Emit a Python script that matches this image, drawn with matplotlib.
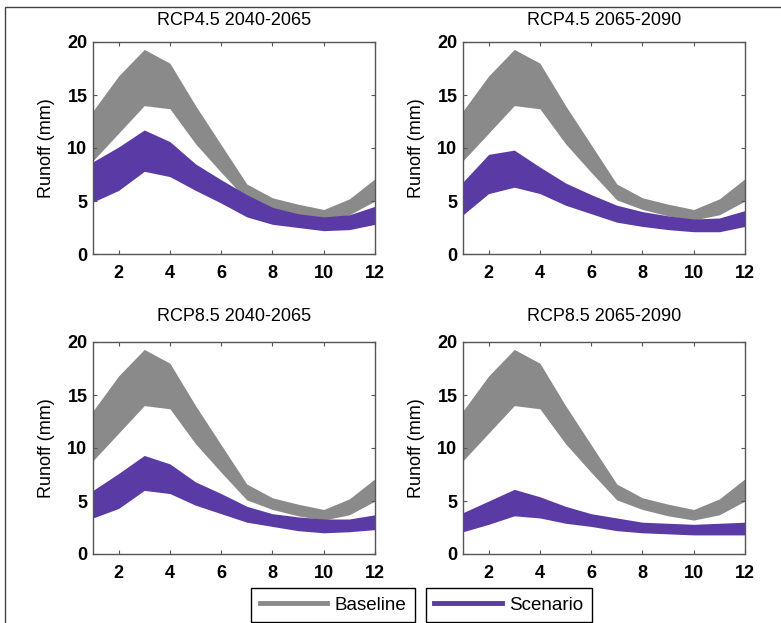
"""Monthly runoff envelopes: baseline vs. RCP scenarios."""

import numpy as np
import matplotlib.pyplot as plt
from matplotlib.lines import Line2D
from matplotlib.patches import Rectangle

plt.rcParams["font.family"] = ["Liberation Sans", "DejaVu Sans"]

months = np.arange(1, 13)

# baseline envelope (same in every panel)
base_hi = [13.5, 16.8, 19.3, 18.0, 14.0, 10.3, 6.6, 5.3, 4.7, 4.2, 5.2, 7.1]
base_lo = [8.8, 11.4, 14.0, 13.7, 10.4, 7.7, 5.1, 4.2, 3.6, 3.2, 3.7, 5.0]

# scenario envelopes
titles = ["RCP4.5 2040-2065", "RCP4.5 2065-2090", "RCP8.5 2040-2065", "RCP8.5 2065-2090"]
scen_hi = [
    [8.7, 10.1, 11.7, 10.6, 8.5, 7.0, 5.6, 4.4, 3.8, 3.5, 3.7, 4.5],
    [6.8, 9.4, 9.8, 8.2, 6.7, 5.6, 4.6, 4.0, 3.6, 3.3, 3.4, 4.1],
    [6.0, 7.6, 9.3, 8.5, 6.8, 5.7, 4.5, 3.8, 3.5, 3.3, 3.3, 3.7],
    [3.9, 5.0, 6.1, 5.4, 4.5, 3.8, 3.4, 3.0, 2.9, 2.8, 2.9, 3.0],
]
scen_lo = [
    [4.9, 6.0, 7.8, 7.3, 6.0, 4.8, 3.5, 2.8, 2.5, 2.2, 2.3, 2.8],
    [3.7, 5.7, 6.3, 5.7, 4.6, 3.8, 3.0, 2.6, 2.3, 2.1, 2.1, 2.6],
    [3.4, 4.3, 6.0, 5.7, 4.6, 3.8, 3.0, 2.6, 2.2, 2.0, 2.1, 2.3],
    [2.1, 2.8, 3.6, 3.4, 2.9, 2.6, 2.2, 2.0, 1.9, 1.8, 1.8, 1.8],
]

gray = "#8a8a8a"
purple = "#5a3aa5"

fig = plt.figure(figsize=(7.81, 6.23), dpi=100)

# axes boxes in pixels: left, top, right, bottom
boxes = [(93, 42, 375, 254), (463, 42, 745, 254), (93, 342, 375, 554), (463, 342, 745, 554)]
W, H = 781, 623

for i, (l, t, r, b) in enumerate(boxes):
    ax = fig.add_axes([l / W, 1 - b / H, (r - l) / W, (b - t) / H])
    ax.fill_between(months, base_lo, base_hi, color=gray, lw=0)
    ax.fill_between(months, scen_lo[i], scen_hi[i], color=purple, lw=0)
    ax.set_xlim(1, 12)
    ax.set_ylim(0, 20)
    ax.set_xticks([2, 4, 6, 8, 10, 12])
    ax.set_yticks([0, 5, 10, 15, 20])
    ax.tick_params(direction="in", top=True, right=True, length=3, width=0.8,
                   color="#555555", labelsize=13, pad=4)
    ax.tick_params(axis="x", pad=8)
    for lab in ax.get_xticklabels() + ax.get_yticklabels():
        lab.set_fontweight("bold")
    for s in ax.spines.values():
        s.set_color("#555555")
        s.set_linewidth(1.0)
    ax.set_ylabel("Runoff (mm)", fontsize=13, labelpad=9)
    ax.set_title(titles[i], fontsize=13, pad=12 if i < 2 else 15)

# legend boxes
leg_kw = dict(loc="center", fontsize=13.5, handlelength=3.6, fancybox=False,
              edgecolor="black", framealpha=1, borderpad=0.45, handletextpad=0.4)
leg1 = fig.legend(handles=[Line2D([], [], color=gray, lw=3.5)], labels=["Baseline"],
                  bbox_to_anchor=(333 / W, 1 - 605 / H), **leg_kw)
leg1.get_frame().set_linewidth(1.0)
leg2 = fig.legend(handles=[Line2D([], [], color=purple, lw=3.5)], labels=["Scenario"],
                  bbox_to_anchor=(509 / W, 1 - 605 / H), **leg_kw)
leg2.get_frame().set_linewidth(1.0)

# outer frame (left and top edges visible)
fig.patches.append(Rectangle((5 / W, -0.1), 1.2, 1.1 - 7 / H, transform=fig.transFigure,
                             fill=False, edgecolor="#444444", lw=1.0))

fig.savefig("out.png", dpi=100)
